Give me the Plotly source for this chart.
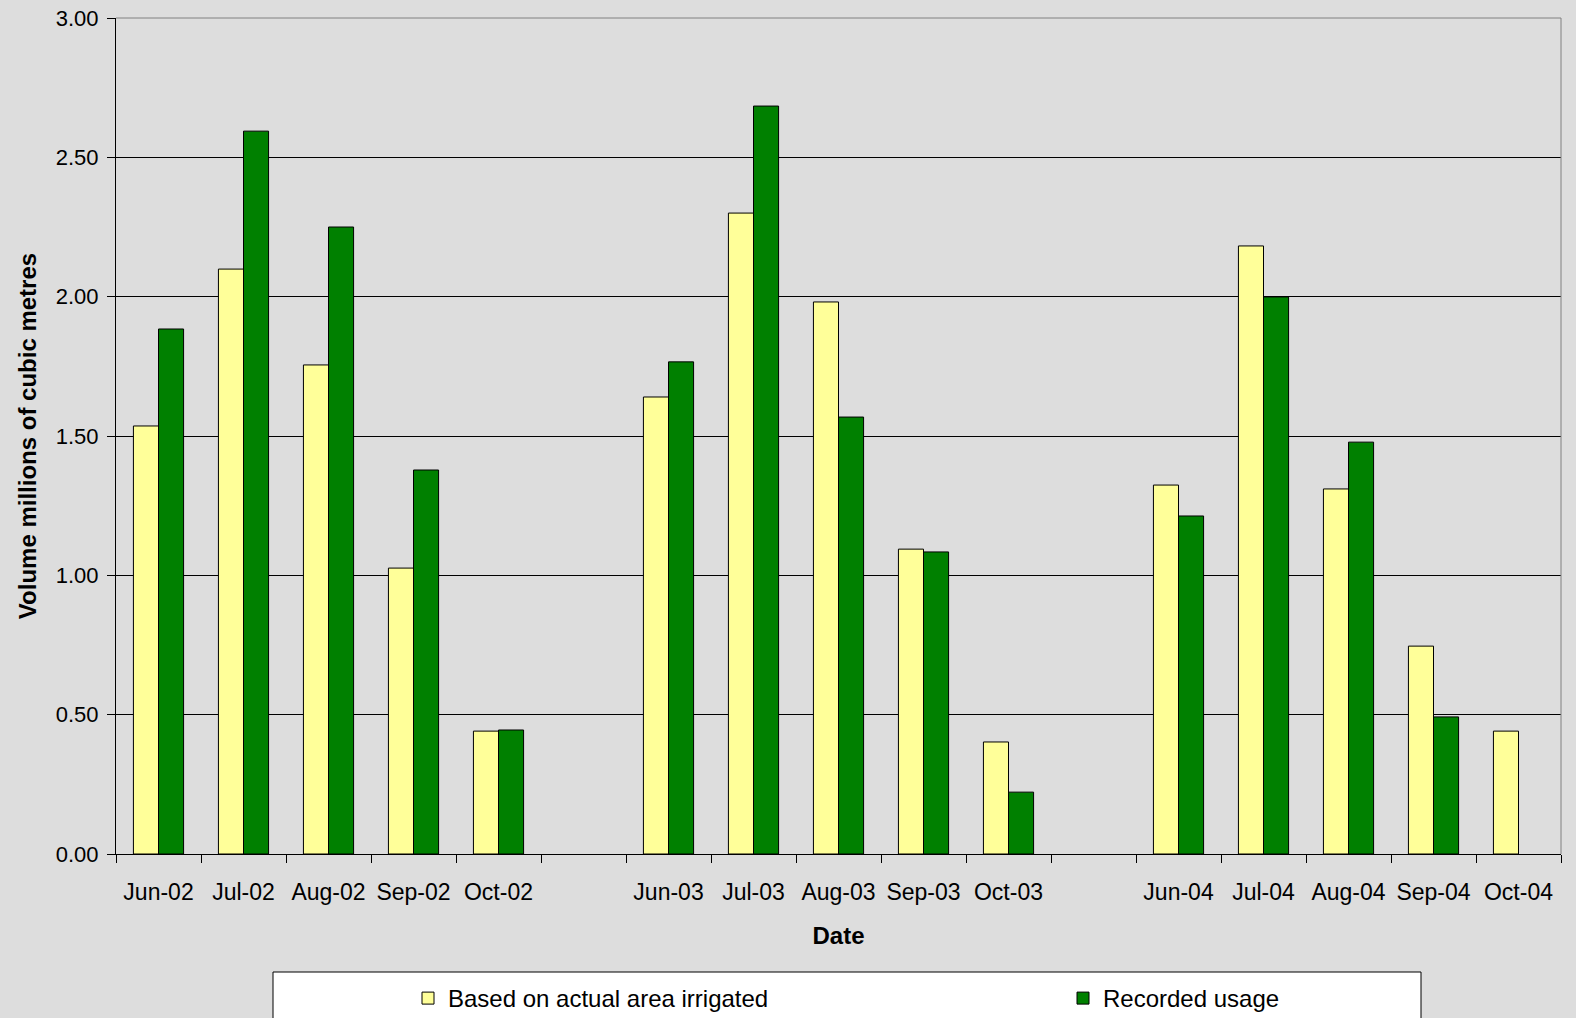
import plotly.graph_objects as go

categories = ["Jun-02", "Jul-02", "Aug-02", "Sep-02", "Oct-02", " ",
              "Jun-03", "Jul-03", "Aug-03", "Sep-03", "Oct-03", "  ",
              "Jun-04", "Jul-04", "Aug-04", "Sep-04", "Oct-04"]
area_irrigated = [1.536, 2.099, 1.755, 1.026, 0.441, None,
                  1.640, 2.300, 1.981, 1.094, 0.402, None,
                  1.324, 2.182, 1.310, 0.746, 0.441]
recorded_usage = [1.884, 2.594, 2.250, 1.378, 0.445, None,
                  1.766, 2.684, 1.568, 1.084, 0.222, None,
                  1.213, 1.999, 1.478, 0.492, None]
y_ticks = [0, 0.5, 1.0, 1.5, 2.0, 2.5, 3.0]

FONT = "Liberation Sans, Arial, sans-serif"
BG = "#DDDDDD"

fig = go.Figure()
fig.add_trace(go.Bar(x=categories, y=area_irrigated, name="Based on actual area irrigated",
                     marker=dict(color="#FFFF99", line=dict(color="black", width=1))))
fig.add_trace(go.Bar(x=categories, y=recorded_usage, name="Recorded usage",
                     marker=dict(color="#008000", line=dict(color="black", width=1))))

L, R, T, B = 116, 15, 18, 164
W, H = 1576, 1018
pw = W - L - R
ph = H - T - B

fig.update_layout(
    width=W, height=H,
    margin=dict(l=L, r=R, t=T, b=B, autoexpand=False),
    paper_bgcolor=BG, plot_bgcolor=BG,
    barmode="group", bargap=0.41, bargroupgap=0,
    font=dict(family=FONT, size=22, color="black"),
    showlegend=True,
    legend=dict(orientation="h", x=(408 - L) / pw, xanchor="left",
                y=(854 - 976) / ph, yanchor="top",
                bgcolor="rgba(0,0,0,0)", borderwidth=0,
                entrywidth=610, entrywidthmode="pixels",
                font=dict(family=FONT, size=24), traceorder="normal"),
    xaxis=dict(type="category", categoryorder="array", categoryarray=categories,
               tickson="boundaries", ticks="outside", ticklen=8, tickcolor="black",
               showline=True, linecolor="black", linewidth=1,
               showgrid=False, tickfont=dict(size=23), ticklabelstandoff=17,
               title=dict(text="<b>Date</b>", font=dict(size=24), standoff=23)),
    yaxis=dict(range=[0, 3.0], tickvals=y_ticks, tickformat=".2f",
               ticks="outside", ticklen=8, tickcolor="black",
               showline=True, linecolor="black", linewidth=1,
               showgrid=True, gridcolor="black", gridwidth=1,
               zeroline=False, tickfont=dict(size=22), ticklabelstandoff=4,
               title=dict(text="<b>Volume millions of cubic metres</b>", font=dict(size=24), standoff=12)),
    shapes=[
        dict(type="line", xref="paper", yref="paper", x0=0, x1=1, y0=1, y1=1,
             line=dict(color="#808080", width=1)),
        dict(type="line", xref="paper", yref="paper", x0=1, x1=1, y0=0, y1=1,
             line=dict(color="#808080", width=1)),
        dict(type="rect", xref="paper", yref="paper",
             x0=(273 - L) / pw, x1=(1421 - L) / pw,
             y0=(854 - 1040) / ph, y1=(854 - 972) / ph,
             line=dict(color="black", width=1), fillcolor="white", layer="below"),
    ],
)

fig.write_html("out.html")
